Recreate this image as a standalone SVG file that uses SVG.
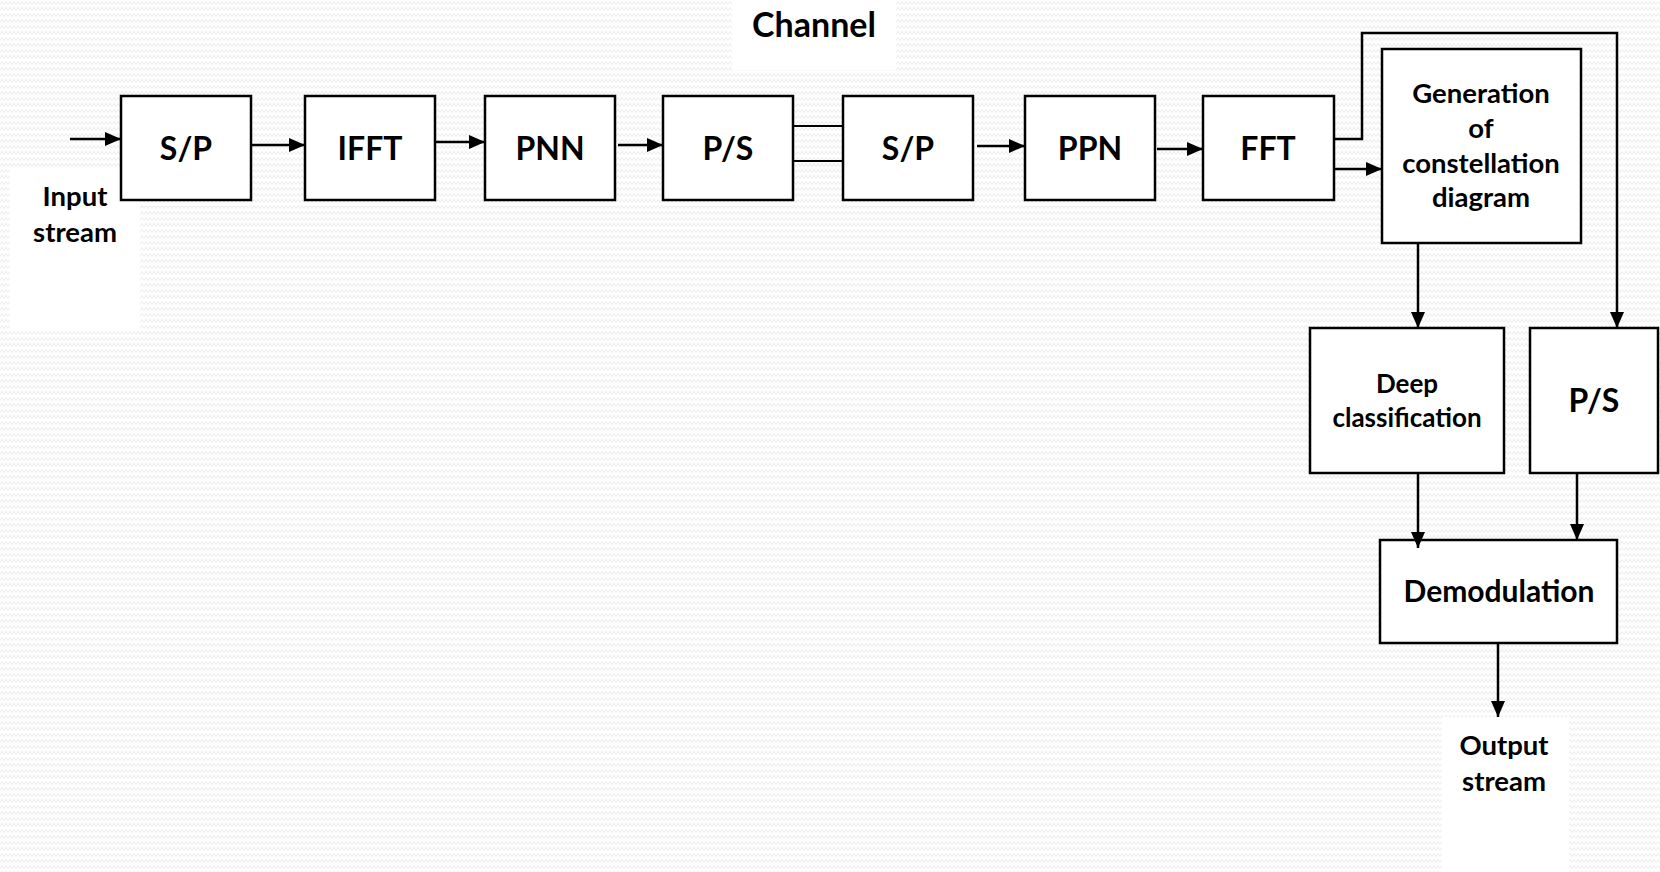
<svg xmlns="http://www.w3.org/2000/svg" width="1660" height="872" viewBox="0 0 1660 872">
  <defs>
    <pattern id="bgwave" x="0" y="0" width="8" height="6" patternUnits="userSpaceOnUse">
      <rect width="8" height="6" fill="#ffffff"/>
      <path d="M0,4.5 L2,1.5 L4,4.5 L6,1.5 L8,4.5" fill="none" stroke="#e8e8e8" stroke-width="0.9"/>
    </pattern>
    <marker id="arrow" markerUnits="userSpaceOnUse" markerWidth="16" markerHeight="14" refX="16" refY="7" orient="auto">
      <path d="M0,0 L16,7 L0,14 Z" fill="#000"/>
    </marker>
    <style>
      .box { fill: #ffffff; stroke: #000; stroke-width: 2.5; }
      .conn { fill: none; stroke: #000; stroke-width: 2.5; }
      .thin { fill: none; stroke: #000; stroke-width: 2; }
      .arr { marker-end: url(#arrow); }
      text { font-family: "Lato", "Carlito", "Liberation Sans", sans-serif; font-weight: bold; fill: #000; text-anchor: middle; }
      .big { font-size: 32px; }
      .mid { font-size: 30px; }
      .small { font-size: 27.5px; }
      .deep { font-size: 26px; }
      .title { font-size: 34px; }
    </style>
  </defs>

  <rect x="0" y="0" width="1660" height="872" fill="url(#bgwave)"/>

  <g id="label-backgrounds" fill="#ffffff">
    <rect x="732" y="0" width="164" height="70"/>
    <rect x="10" y="168" width="130" height="162"/>
    <rect x="1442" y="717" width="127" height="155"/>
  </g>

  <g id="channel-label">
    <text class="title" x="814" y="37">Channel</text>
  </g>

  <g id="input-stream">
    <text class="small" x="75" y="206">Input</text>
    <text class="small" x="75" y="242">stream</text>
  </g>

  <g id="sp1">
    <rect class="box" x="121" y="96" width="130" height="104"/>
    <text class="big" x="186" y="160">S/P</text>
  </g>
  <g id="ifft">
    <rect class="box" x="305" y="96" width="130" height="104"/>
    <text class="big" x="370" y="160">IFFT</text>
  </g>
  <g id="pnn">
    <rect class="box" x="485" y="96" width="130" height="104"/>
    <text class="big" x="550" y="160">PNN</text>
  </g>
  <g id="ps1">
    <rect class="box" x="663" y="96" width="130" height="104"/>
    <text class="big" x="728" y="160">P/S</text>
  </g>
  <g id="sp2">
    <rect class="box" x="843" y="96" width="130" height="104"/>
    <text class="big" x="908" y="160">S/P</text>
  </g>
  <g id="ppn">
    <rect class="box" x="1025" y="96" width="130" height="104"/>
    <text class="big" x="1090" y="160">PPN</text>
  </g>
  <g id="fft">
    <rect class="box" x="1203" y="96" width="131" height="104"/>
    <text class="big" x="1268" y="160">FFT</text>
  </g>

  <g id="constellation">
    <rect class="box" x="1382" y="49" width="199" height="194"/>
    <text class="small" x="1481" y="103">Generation</text>
    <text class="small" x="1481" y="138">of</text>
    <text class="small" x="1481" y="173">constellation</text>
    <text class="small" x="1481" y="207">diagram</text>
  </g>

  <g id="deep-classification">
    <rect class="box" x="1310" y="328" width="194" height="145"/>
    <text class="deep" x="1407" y="393">Deep</text>
    <text class="deep" x="1407" y="427">classification</text>
  </g>

  <g id="ps2">
    <rect class="box" x="1530" y="328" width="128" height="145"/>
    <text class="big" x="1594" y="412">P/S</text>
  </g>

  <g id="demodulation">
    <rect class="box" x="1380" y="540" width="237" height="103"/>
    <text class="mid" x="1499" y="602">Demodulation</text>
  </g>

  <g id="output-stream">
    <text class="small" x="1504" y="755">Output</text>
    <text class="small" x="1504" y="791">stream</text>
  </g>

  <g id="connectors">
    <path class="conn arr" d="M70,139 H121"/>
    <path class="conn arr" d="M251,145 H305"/>
    <path class="conn arr" d="M435,142 H485"/>
    <path class="conn arr" d="M618,145 H663"/>
    <path class="thin" d="M793,126 H843"/>
    <path class="thin" d="M793,161 H843"/>
    <path class="conn arr" d="M977,146 H1025"/>
    <path class="conn arr" d="M1157,149 H1203"/>
    <path class="conn arr" d="M1334,139 H1362 V33 H1617 V328"/>
    <path class="conn arr" d="M1334,169 H1382"/>
    <path class="conn arr" d="M1418,243 V328"/>
    <path class="conn arr" d="M1418,473 V548"/>
    <path class="conn arr" d="M1577,472 V540"/>
    <path class="conn arr" d="M1498,643 V717"/>
  </g>
</svg>
